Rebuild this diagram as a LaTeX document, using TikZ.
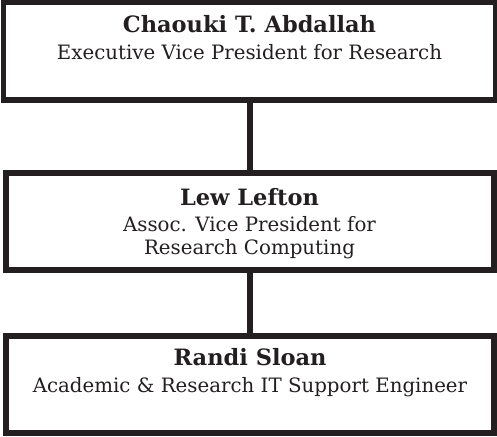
\documentclass[tikz,border=0pt]{standalone}
\usepackage{fontspec}
\setmainfont{DejaVu Serif}
\definecolor{ink}{HTML}{231F20}
\begin{document}
\begin{tikzpicture}[x=1pt,y=-1pt,
  orgbox/.style={draw=ink,line width=5.5pt,rectangle,inner sep=0pt},
  orglink/.style={draw=ink,line width=5.5pt},
  personname/.style={anchor=base,text=ink,inner sep=0pt,font=\fontsize{22.5}{26}\selectfont\bfseries},
  personrole/.style={anchor=base,text=ink,inner sep=0pt,font=\fontsize{19.8}{24}\selectfont}]
\useasboundingbox (0,0) rectangle (497,436);
\node[orgbox,minimum width=492pt,minimum height=97.5pt] (b1) at (249.5,51.25) {};
\node[orgbox,minimum width=488pt,minimum height=97pt] (b2) at (250,221.5) {};
\node[orgbox,minimum width=488pt,minimum height=97pt] (b3) at (250,384.5) {};
\draw[orglink] (b2.north |- b1.south) -- (b2.north);
\draw[orglink] (b2.south) -- (b3.north);
\node[personname] (n1) at (249.5,32.5) {Chaouki T. Abdallah};
\node[personrole] (r1) at (249.5,59.5) {Executive Vice President for Research};
\node[personname] (n2) at (249.5,205) {Lew Lefton};
\node[personrole] (r2a) at (249.5,231) {Assoc. Vice President for};
\node[personrole] (r2b) at (249.5,254) {Research Computing};
\node[personname] (n3) at (250,365) {Randi Sloan};
\node[personrole] (r3) at (250,392) {Academic \& Research IT Support Engineer};
\end{tikzpicture}
\end{document}
